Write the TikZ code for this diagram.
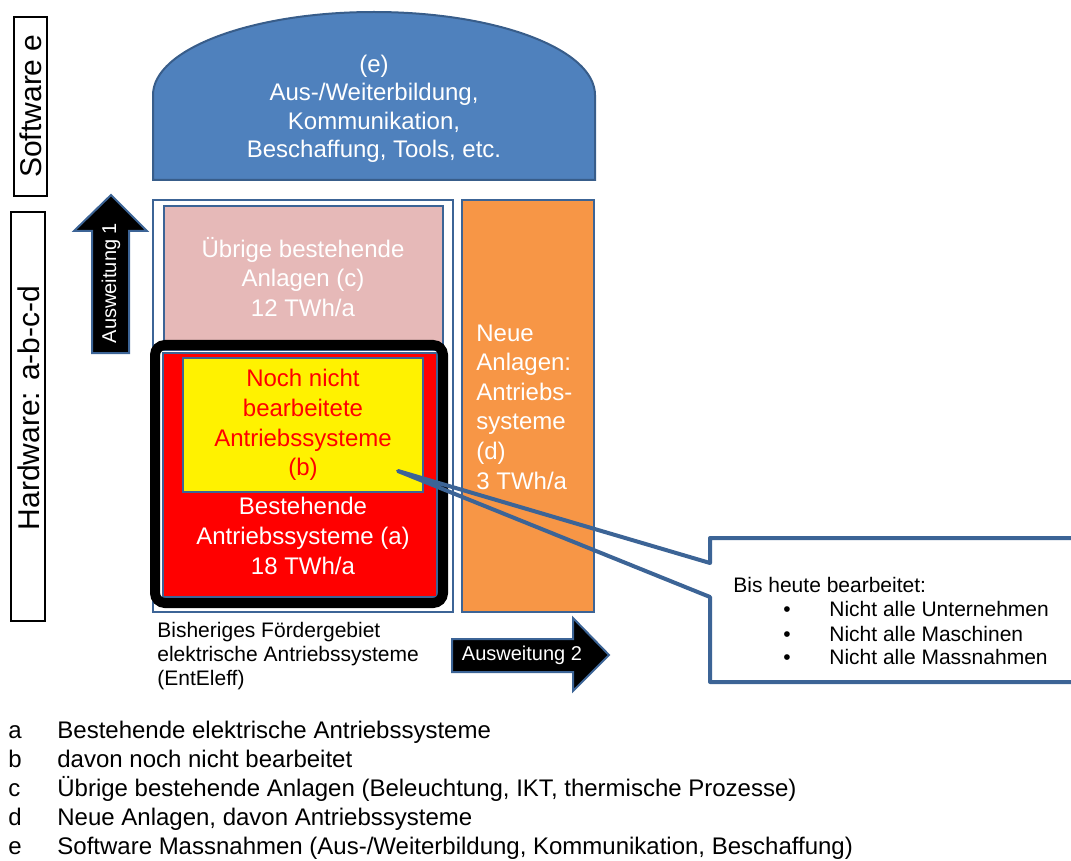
\documentclass[tikz,border=0pt]{standalone}
\usepackage{fontspec}
\setmainfont{Liberation Sans}
\usepackage{tikz}

\definecolor{rahmenblau}{HTML}{3C6496}
\definecolor{kuppelblau}{HTML}{4F81BD}
\definecolor{kuppelrand}{HTML}{385D8A}
\definecolor{altrosa}{HTML}{E6B9B8}
\definecolor{hellorange}{HTML}{F79646}

\begin{document}
\begin{tikzpicture}[x=0.5pt,y=-0.5pt,
  kasten/.style={draw=rahmenblau,line width=1pt},
  kastentext/.style={text=white,align=center,font=\fontsize{12}{14.8}\selectfont},
  seitentext/.style={rotate=90,font=\fontsize{15}{18}\selectfont},
  pfeil/.style={fill=black,draw=rahmenblau,line width=1pt},
  pfeiltext/.style={text=white,font=\fontsize{10}{12}\selectfont},
  klein/.style={font=\fontsize{10.5}{12}\selectfont,inner sep=0pt},
  legende/.style={anchor=base west,inner sep=0pt,font=\fontsize{12}{14.8}\selectfont}]
\useasboundingbox (0,0) rectangle (1071,861);
\clip (0,0) rectangle (1071,861);

%Seitenbeschriftung
\draw[line width=1pt] (14,17) rectangle (47,196);
\node[seitentext] (software) at (31,106) {Software e};
\draw[line width=1pt] (11,212) rectangle (45,621);
\node[seitentext] (hardware) at (29,408) {Hardware: a-b-c-d};

%Ausweitung 1
\draw[pfeil] (111,195)--(147,231)--(129,231)--(129,353)--(92,353)--(92,231)--(74,231)--cycle;
\node[pfeiltext,rotate=90] (ausw1) at (111,283) {Ausweitung 1};

%Kuppel (e)
\draw[fill=kuppelblau,draw=kuppelrand,line width=1pt] (153,180)--(153,95)
  arc[start angle=180,end angle=0,x radius=110.5pt,y radius=41.5pt]--(595,180)--cycle;
\node[kastentext,font=\fontsize{12}{14.25}\selectfont] (etext) at (374,109) {(e)\\Aus-/Weiterbildung,\\Kommunikation,\\Beschaffung, Tools, etc.};

%Rahmen und (c)
\draw[kasten] (153,200) rectangle (453,612);
\draw[kasten,fill=altrosa] (164,206) rectangle (443,350);
\node[kastentext] (ctext) at (303,277) {Übrige bestehende\\Anlagen (c)\\12 TWh/a};

%Bestehende Antriebssysteme (a)
\draw[kasten,fill=red,line width=0.75pt] (163,353) rectangle (437,597);
\draw[line width=5pt,rounded corners=5pt] (155,345) rectangle (443,603);
\draw[kasten,fill=yellow] (183,358) rectangle (423,492); %(b)
\node[kastentext,text=red] (btext) at (303,425) {Noch nicht\\bearbeitete\\Antriebssysteme\\(b)};
\node[kastentext] (atext) at (303,536) {Bestehende\\Antriebssysteme (a)\\18 TWh/a};

%Neue Anlagen (d)
\draw[kasten,fill=hellorange] (462,200) rectangle (594,612);
\node[kastentext,align=left,anchor=west,inner sep=0pt] (dtext) at (476,407) {Neue\\Anlagen:\\Antriebs-\\systeme\\(d)\\3 TWh/a};

\node[klein,align=left,anchor=west] (foerder) at (157,656) {Bisheriges Fördergebiet\\elektrische Antriebssysteme\\(EntEleff)};

%Ausweitung 2
\draw[pfeil] (452,639)--(573,639)--(573,618)--(609,655)--(573,691)--(573,672)--(452,672)--cycle;
\node[pfeiltext] (ausw2) at (522,655) {Ausweitung 2};

%Sprechblase
\coordinate (spitze) at (398,471);
\coordinate (blaseoben) at (710,563);
\coordinate (blaseunten) at (710,597);
\fill[white] (710,538) rectangle (1090,682);
\draw[rahmenblau,line width=2pt,line join=round] (spitze)--(blaseoben)--(710,538)--(1090,538)--(1090,682)--(710,682)--(blaseunten)--cycle;
\node[klein,anchor=base west] (bisheute) at (733,592) {Bis heute bearbeitet:};
\foreach \y/\wort in {616/Unternehmen,641/Maschinen,664/Massnahmen}{
  \node[klein,anchor=base] (punkt\y) at (787,\y) {•};
  \node[klein,anchor=base west] (nicht\y) at (829,\y) {Nicht alle \wort};
}

%Legende
\foreach \i/\b/\t in {0/a/{Bestehende elektrische Antriebssysteme},
                      1/b/{davon noch nicht bearbeitet},
                      2/c/{Übrige bestehende Anlagen (Beleuchtung, IKT, thermische Prozesse)},
                      3/d/{Neue Anlagen, davon Antriebssysteme},
                      4/e/{Software Massnahmen (Aus-/Weiterbildung, Kommunikation, Beschaffung)}}{
  \node[legende] (leg\b) at (8,738+29*\i) {\b};
  \node[legende] (legtext\b) at (57,738+29*\i) {\t};
}
\end{tikzpicture}
\end{document}
